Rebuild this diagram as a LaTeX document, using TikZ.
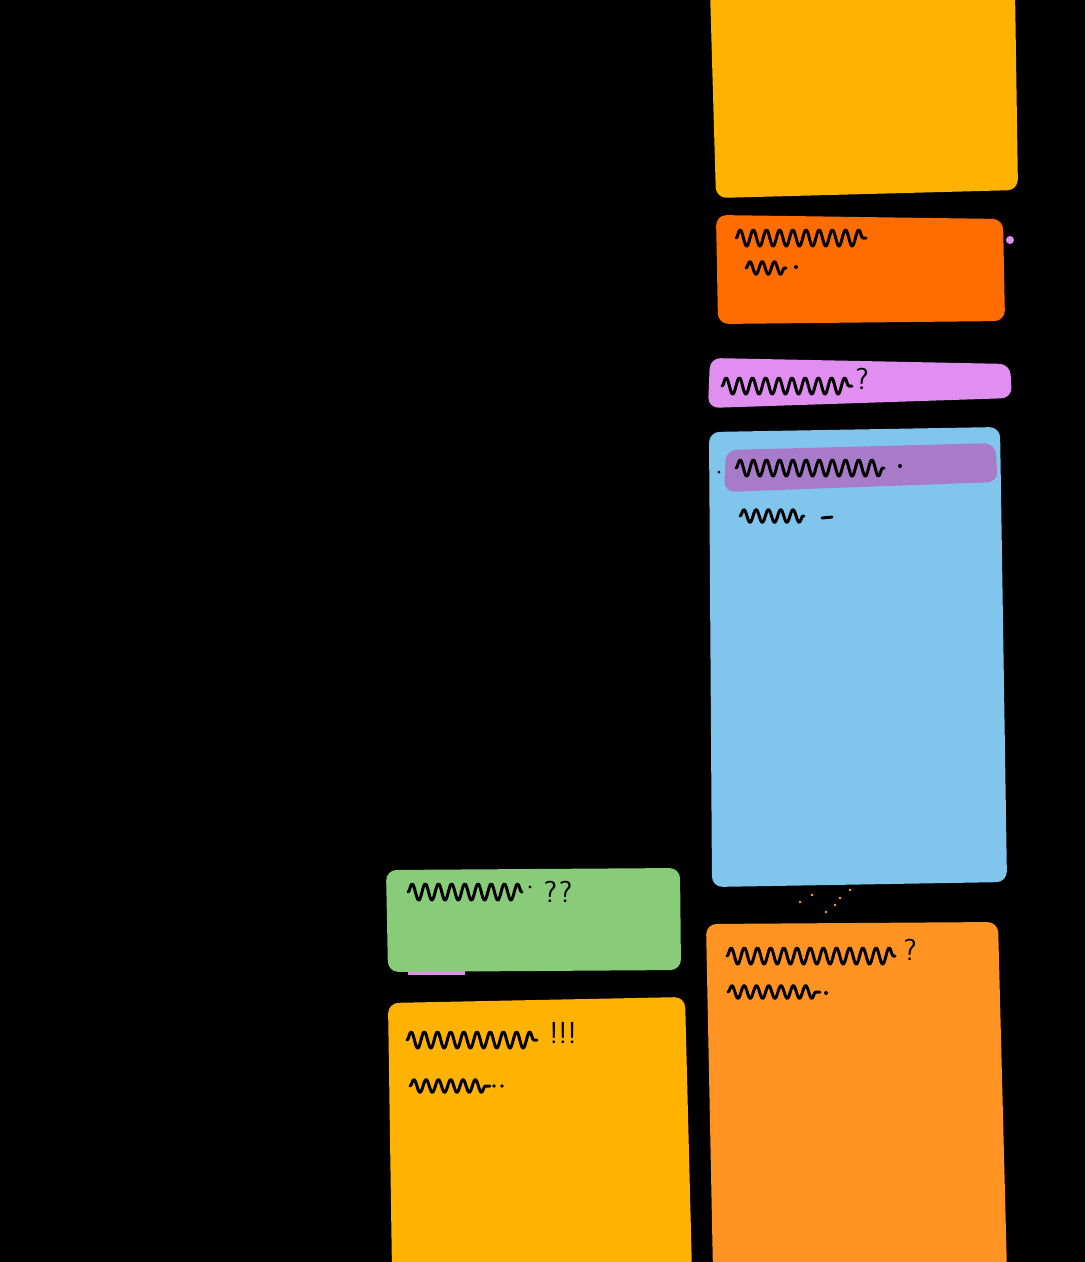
\documentclass[tikz,border=0pt]{standalone}
\usepackage{xcolor}
\definecolor{amber}{RGB}{255,179,0}
\definecolor{tangerine}{RGB}{255,109,0}
\definecolor{lilac}{RGB}{224,143,240}
\definecolor{sky}{RGB}{128,198,236}
\definecolor{plum}{RGB}{168,123,200}
\definecolor{leaf}{RGB}{136,203,120}
\definecolor{apricot}{RGB}{255,148,34}
\usepackage{tikz}
\usetikzlibrary{decorations.pathmorphing}

\begin{document}
\begin{tikzpicture}[x=0.02cm, y=-0.02cm,
    sticky/.style={rounded corners=6pt},
    scribble/.style={line width=1.7pt, line cap=round, line join=round,
        decorate, decoration={snake, segment length=7.5pt, amplitude=4.6pt}},
    smallscribble/.style={scribble, decoration={snake, segment length=7pt, amplitude=3.6pt}},
    mark dot/.style={fill=black},
    punct/.style={font=\sffamily\LARGE, inner sep=0pt}]
    % Black board
    \fill[black] (0,0) rectangle (1085,1262);
    \useasboundingbox (0,0) rectangle (1085,1262);

    % Right column of stickies
    \fill[amber, sticky] (710,-10) -- (1015,-10) -- (1018,190) -- (716,198) -- cycle;
    \fill[tangerine, sticky] (716,215) -- (1003,219) -- (1005,321) -- (718,324) -- cycle;
    \fill[lilac, sticky] (710,358) -- (1010,364) -- (1012,398) -- (708,408) -- cycle;
    \fill[sky, sticky] (709,432) -- (1000,427) -- (1007,882) -- (712,887) -- cycle;
    \fill[plum, sticky] (726,450) -- (995,443) -- (998,482) -- (724,492) -- cycle;
    \fill[apricot, sticky] (706,924) -- (998,922) -- (1007,1272) -- (713,1272) -- cycle;

    % Left column of stickies
    \fill[lilac] (408,970) rectangle (465,975);
    \fill[leaf, sticky] (386,870) -- (680,868) -- (681,970) -- (388,972) -- cycle;
    \fill[amber, sticky] (388,1003) -- (685,997) -- (692,1272) -- (392,1272) -- cycle;

    % Specks
    \fill[lilac] (1010,240) circle (4);
    \foreach \px/\py in {800/902, 812/895, 826/912, 840/898, 850/890, 835/905}
        \fill[amber] (\px,\py) circle (1.3);

    % Scribbles: orange sticky
    \draw[scribble] (736,238) -- (866,238);
    \draw[smallscribble] (746,268) -- (786,268);
    \fill[mark dot] (796,267) circle (2);

    % Scribbles: lilac sticky
    \draw[scribble] (722,386) -- (852,386);
    \node[punct] (lilacq) at (862,379) {?};

    % Scribbles: blue sticky
    \fill[mark dot] (719,472) circle (1.5);
    \draw[scribble] (736,468) -- (884,468);
    \fill[mark dot] (900,466) circle (2);
    \draw[smallscribble] (740,516) -- (804,516);
    \draw[line width=1.7pt, line cap=round] (822,518) -- (832,517);

    % Scribbles: green sticky
    \draw[scribble] (408,892) -- (522,892);
    \fill[mark dot] (530,887) circle (1.6);
    \node[punct] (greenq) at (558,892) {?\kern1pt?};

    % Scribbles: lower amber sticky
    \draw[scribble] (407,1040) -- (537,1040);
    \node[punct] (amberx) at (563,1033) {!!!};
    \draw[smallscribble] (410,1086) -- (490,1086);
    \fill[mark dot] (494,1086) circle (1.8);
    \fill[mark dot] (502,1086) circle (1.8);

    % Scribbles: lower apricot sticky
    \draw[scribble] (727,956) -- (895,956);
    \node[punct] (apricotq) at (910,950) {?};
    \draw[smallscribble] (728,992) -- (820,992);
    \fill[mark dot] (826,993) circle (2);
\end{tikzpicture}
\end{document}
